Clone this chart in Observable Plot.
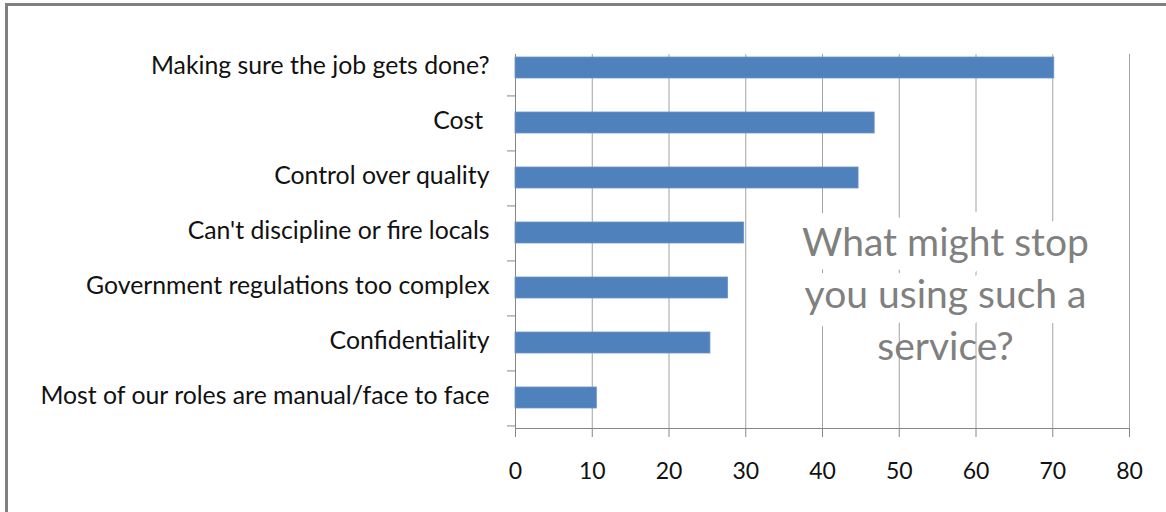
<!DOCTYPE html>
<html><head><meta charset="utf-8">
<script src="https://cdn.jsdelivr.net/npm/d3@7"></script>
<script src="https://cdn.jsdelivr.net/npm/@observablehq/plot@0.6"></script>
<style>
body{margin:0;background:#fff;}
#wrap{position:relative;width:1166px;height:512px;overflow:hidden;background:#fff;}
#frame{position:absolute;left:5px;top:3px;right:-10px;bottom:-10px;border-top:3px solid #808080;border-left:3px solid #808080;pointer-events:none;}
</style></head><body><div id="wrap"><div id="chart"></div><div id="frame"></div></div>
<script>
const categories = [
  "Making sure the job gets done?",
  "Cost ",
  "Control over quality",
  "Can't discipline or fire locals",
  "Government regulations too complex",
  "Confidentiality",
  "Most of our roles are manual/face to face"
];
const values = [70.2, 46.8, 44.7, 29.8, 27.7, 25.4, 10.6];
const xTicks = [0, 10, 20, 30, 40, 50, 60, 70, 80];
const titleLines = ["What might stop", "you using such a", "service?"];

const data = categories.map((c, i) => ({category: c, value: values[i]}));

const W = 1166, H = 512, mL = 515, mR = 37, mT = 37, mB = 84;
const halfStep = (H - mT - mB) / categories.length / 2;
const axisColor = "#868686";

const chart = Plot.plot({
  width: W, height: H,
  marginLeft: mL, marginRight: mR, marginTop: mT, marginBottom: mB,
  style: {fontFamily: "Lato", background: "white", color: "#111", overflow: "visible"},
  x: {domain: [0, 80]},
  y: {domain: categories, paddingInner: 0.61, paddingOuter: 0.305},
  marks: [
    Plot.gridX(xTicks.slice(1), {stroke: "#a3a3a3", strokeOpacity: 1, insetTop: 17}),
    Plot.ruleX([0], {stroke: axisColor, insetTop: 17}),
    Plot.frame({anchor: "bottom", stroke: axisColor}),
    Plot.barX(data, {x: "value", y: "category", fill: "#4F81BD", stroke: "#6b95c9", strokeWidth: 0.8}),
    Plot.axisX({ticks: xTicks, tickSize: 9, tickPadding: 25, stroke: axisColor, fontSize: 23, fill: "#111", label: null}),
    Plot.axisY({tickSize: 8, dy: halfStep, text: null, stroke: axisColor, label: null}),
    Plot.axisY({tickSize: 0, tickPadding: 26, dy: -2, fontSize: 24.8, fill: "#111", label: null}),
    Plot.text([titleLines.slice(0, 2).join("\n")], {
      frameAnchor: "top-left", dx: 430, dy: 181, lineAnchor: "top", lineHeight: 1.34,
      textAnchor: "middle", fontSize: 39, fill: "#808080", stroke: "white", strokeWidth: 30, paintOrder: "stroke"
    }),
    Plot.text([titleLines[2]], {
      frameAnchor: "top-left", dx: 430, dy: 295, lineAnchor: "top",
      textAnchor: "middle", fontSize: 39, fill: "#808080"
    })
  ]
});
document.getElementById("chart").appendChild(chart);
</script>
</body></html>
